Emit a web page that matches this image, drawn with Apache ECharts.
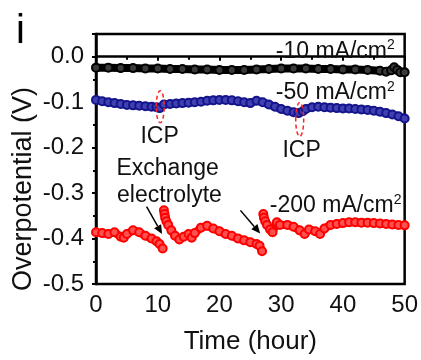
<!DOCTYPE html>
<html>
<head>
<meta charset="utf-8">
<script src="https://cdn.jsdelivr.net/npm/echarts@6/dist/echarts.min.js"></script>
<style>html,body{margin:0;padding:0;background:#fff;}#c{width:421px;height:360px;}</style>
</head>
<body>
<div id="c"></div>
<script>
// ---- data ----
const blackT = [0,2,4,6,8,10,12,14,16,18,20,22,24,26,28,30,32,34,36,38,40,42,44,46,47,47.8,48.3,48.8,49.3,50];
const blackV = [-0.024,-0.024,-0.025,-0.025,-0.026,-0.026,-0.027,-0.027,-0.028,-0.028,-0.029,-0.029,-0.029,-0.028,-0.027,-0.026,-0.026,-0.026,-0.027,-0.027,-0.028,-0.028,-0.029,-0.031,-0.033,-0.030,-0.023,-0.029,-0.034,-0.034];

const blueT = [0,1,2,3,4,5,6,7,8,9,9.8,10.3,11,12,13,14,15,16,17,18,19,20,21,22,23,24,25,26,27,28,29,30,31,32,32.8,33.5,34,35,36,37,38,39,40,41,42,43,44,45,46,47,48,49,50];
const blueV = [-0.095,-0.098,-0.100,-0.102,-0.104,-0.106,-0.107,-0.108,-0.109,-0.110,-0.111,-0.113,-0.105,-0.104,-0.103,-0.102,-0.101,-0.100,-0.099,-0.097,-0.096,-0.095,-0.095,-0.096,-0.098,-0.100,-0.102,-0.097,-0.100,-0.105,-0.110,-0.115,-0.119,-0.122,-0.124,-0.120,-0.115,-0.111,-0.110,-0.111,-0.112,-0.113,-0.114,-0.114,-0.115,-0.116,-0.117,-0.119,-0.121,-0.124,-0.127,-0.131,-0.136];

const red1T = [0,1,2,3,4,4.5,5,6,7,8,9,9.8,10.3,10.8];
const red1V = [-0.386,-0.388,-0.390,-0.386,-0.396,-0.398,-0.390,-0.382,-0.386,-0.394,-0.400,-0.406,-0.412,-0.422];
const red2T = [11,11.1,11.2,11.4,11.7,12.2,12.8,13.5,14.2,15,15.5,16,17,18,19,20,21,22,23,24,25,26,26.5,26.9];
const red2V = [-0.338,-0.346,-0.354,-0.362,-0.370,-0.382,-0.394,-0.402,-0.396,-0.390,-0.398,-0.388,-0.376,-0.372,-0.378,-0.384,-0.390,-0.394,-0.400,-0.404,-0.408,-0.412,-0.416,-0.428];
const red3T = [27.1,27.2,27.4,27.7,28.2,28.6,29.3,29.8,31,32,33,33.8,34.5,35.5,36.3,37,38,39,40,41,42,43,44,45,46,47,48,49,50];
const red3V = [-0.346,-0.354,-0.362,-0.370,-0.380,-0.386,-0.364,-0.370,-0.370,-0.374,-0.382,-0.390,-0.380,-0.384,-0.390,-0.378,-0.370,-0.368,-0.366,-0.364,-0.364,-0.365,-0.365,-0.366,-0.367,-0.368,-0.369,-0.370,-0.371];

const xTicks = [0,10,20,30,40,50];
const yTicks = ['-0.5','-0.4','-0.3','-0.2','-0.1','0.0'];

const zip = (t, v) => t.map((x, i) => [x, v[i]]);
const FONT = 'Liberation Sans, Arial, sans-serif';

function mkSeries(data, col, fill) {
  return {
    type: 'line', data: data, symbol: 'circle', symbolSize: 8, showAllSymbol: true,
    lineStyle: { color: col, width: 8 },
    itemStyle: { color: fill, borderColor: col, borderWidth: 2 },
    emphasis: { disabled: true }, animation: false, z: 3
  };
}

const chart = echarts.init(document.getElementById('c'), null, { renderer: 'canvas' });
chart.setOption({
  animation: false,
  backgroundColor: '#fff',
  grid: { left: 96, right: 11, top: 34, bottom: 65, show: true, borderColor: '#000', borderWidth: 2.5, backgroundColor: 'transparent' },
  xAxis: {
    type: 'value', min: 0, max: 50, interval: 10,
    name: 'Time (hour)', nameLocation: 'middle', nameGap: 45,
    nameTextStyle: { fontSize: 26, color: '#111', fontFamily: FONT },
    axisLine: { show: true, lineStyle: { color: '#000', width: 2.5 } },
    axisTick: { show: true, inside: false, length: 4, lineStyle: { color: '#000', width: 2 } },
    minorTick: { show: true, splitNumber: 2, length: 3, lineStyle: { color: '#000', width: 2 } },
    splitLine: { show: false },
    axisLabel: { fontSize: 24, color: '#111', fontFamily: FONT, margin: 9,
      formatter: v => xTicks.indexOf(v) >= 0 ? String(v) : '' }
  },
  yAxis: {
    type: 'value', min: -0.5, max: 0.05, interval: 0.1,
    axisLine: { show: true, lineStyle: { color: '#000', width: 2.5 } },
    axisTick: { show: true, inside: false, length: 4, lineStyle: { color: '#000', width: 2 } },
    minorTick: { show: true, splitNumber: 2, length: 3, lineStyle: { color: '#000', width: 2 } },
    splitLine: { show: false },
    axisLabel: { fontSize: 24, color: '#111', fontFamily: FONT, margin: 12, showMaxLabel: false,
      formatter: v => { const s = Math.abs(v) < 1e-9 ? '0.0' : v.toFixed(1); return yTicks.indexOf(s) >= 0 && v <= 0.0001 ? s : ''; } }
  },
  series: [
    mkSeries(zip(blackT, blackV), '#000000', '#3a3a3a'),
    mkSeries(zip(blueT, blueV), '#14148c', '#4040b0'),
    mkSeries(zip(red1T, red1V), '#ff0000', '#ff5050'),
    mkSeries(zip(red2T, red2V), '#ff0000', '#ff5050'),
    mkSeries(zip(red3T, red3V), '#ff0000', '#ff5050')
  ]
});

// ---- annotations (data coordinates) ----
const labels = [
  { t: 48.4, v: 0.012, text: '-10 mA/cm{s|2}', align: 'right' },
  { t: 48.4, v: -0.080, text: '-50 mA/cm{s|2}', align: 'right' },
  { t: 49.5, v: -0.328, text: '-200 mA/cm{s|2}', align: 'right' },
  { t: 10.3, v: -0.175, text: 'ICP', align: 'center' },
  { t: 33.3, v: -0.207, text: 'ICP', align: 'center' },
  { t: 11.6, v: -0.246, text: 'Exchange', align: 'center' },
  { t: 11.9, v: -0.306, text: 'electrolyte', align: 'center' }
];
const arrows = [
  { from: [8.2, -0.330], to: [10.7, -0.390] },
  { from: [23.4, -0.338], to: [26.6, -0.389] }
];
const rings = [
  { t: 10.4, v: -0.110, rx: 4, ry: 16 },
  { t: 33.0, v: -0.138, rx: 4, ry: 17 }
];

const px = (t, v) => chart.convertToPixel({ gridIndex: 0 }, [t, v]);
const g = [];
labels.forEach(l => {
  const p = px(l.t, l.v);
  g.push({ type: 'text', x: p[0], y: p[1], z: 10, style: {
    text: l.text, fill: '#111', align: l.align, verticalAlign: 'middle',
    font: '23px ' + FONT,
    rich: { s: { fontSize: 14, fontFamily: FONT, fill: '#111', verticalAlign: 'top', padding: [0, 0, 12, 0] } }
  }});
});
arrows.forEach(a => {
  const p0 = px(a.from[0], a.from[1]), p1 = px(a.to[0], a.to[1]);
  const dx = p1[0] - p0[0], dy = p1[1] - p0[1], L = Math.hypot(dx, dy);
  const ux = dx / L, uy = dy / L, hl = 9, hw = 4;
  const bx = p1[0] - ux * hl, by = p1[1] - uy * hl;
  g.push({ type: 'line', z: 10, shape: { x1: p0[0], y1: p0[1], x2: bx, y2: by }, style: { stroke: '#000', lineWidth: 1.5 } });
  g.push({ type: 'polygon', z: 10, shape: { points: [[p1[0], p1[1]], [bx - uy * hw, by + ux * hw], [bx + uy * hw, by - ux * hw]] }, style: { fill: '#000' } });
});
rings.forEach(r => {
  const p = px(r.t, r.v);
  g.push({ type: 'ellipse', z: 10, shape: { cx: p[0], cy: p[1], rx: r.rx, ry: r.ry }, style: { fill: 'none', stroke: '#ff2020', lineWidth: 1.5, lineDash: [4, 3] } });
});
// y-axis title, placed as in the reference (below the plot's mid-height)
g.push({ type: 'text', x: 24, y: 189, rotation: Math.PI / 2, z: 10, style: {
  text: 'Overpotential (V)', fill: '#111', font: '27px ' + FONT, align: 'center', verticalAlign: 'middle' } });
g.push({ type: 'text', x: 16, y: 12, z: 10, style: { text: 'i', fill: '#000', font: '40px ' + FONT } });
chart.setOption({ graphic: g });
</script>
</body>
</html>
